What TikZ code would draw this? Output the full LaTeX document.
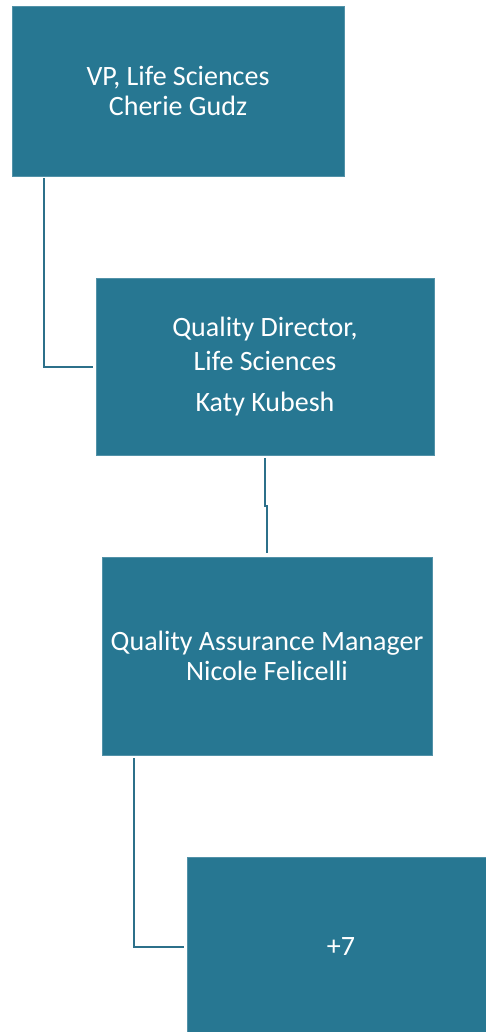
\documentclass[tikz,border=0pt]{standalone}
\usepackage{fontspec}
\setmainfont{Carlito}
\usepackage{xcolor}
\definecolor{orgteal}{RGB}{39,119,146}
\definecolor{orgwire}{RGB}{44,112,138}

\tikzset{
  orgbox/.style={fill=orgteal, draw=orgteal!80!white, line width=0.6pt,
    inner sep=0pt, text=white, align=center,
    font=\fontsize{28}{30}\selectfont},
  orgline/.style={draw=orgwire, line width=2pt}
}

\begin{document}
\begin{tikzpicture}[x=1pt,y=-1pt]

% Page frame
\useasboundingbox (0,0) rectangle (485,1032);

% Boxes
\node[orgbox, minimum width=332pt, minimum height=170pt] (vp) at (178,91)
  {VP, Life Sciences\\Cherie Gudz};
\node[orgbox, minimum width=338pt, minimum height=177pt] (qd) at (265,366.5)
  {Quality Director,\\[4pt]Life Sciences\\[11pt]Katy Kubesh};
\node[orgbox, minimum width=330pt, minimum height=198pt] (qam) at (267,656)
  {Quality Assurance Manager\\Nicole Felicelli};
\node[orgbox, minimum width=308pt, minimum height=180pt] (more) at (341,947)
  {+7};

% Reporting lines
\draw[orgline, shorten <=2pt, shorten >=3pt]
  ([xshift=32pt]vp.south west) |- (qd.west);
\draw[orgline, shorten <=3pt, shorten >=4pt]
  (qd.south) -- ++(0,51) -| (qam.north);
\draw[orgline, shorten <=3pt, shorten >=3pt]
  ([xshift=32pt]qam.south west) |- (more.west);

\end{tikzpicture}
\end{document}
